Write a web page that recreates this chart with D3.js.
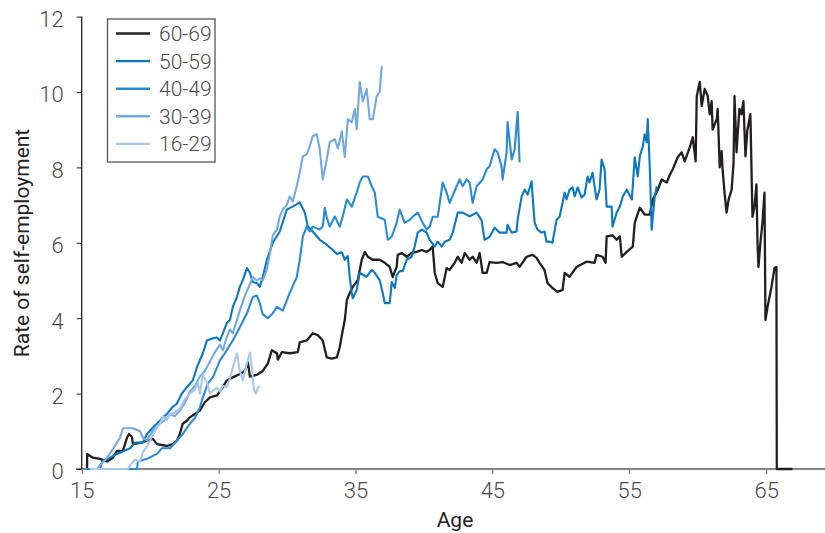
<!DOCTYPE html>
<html>
<head>
<meta charset="utf-8">
<script src="https://cdn.jsdelivr.net/npm/d3@7"></script>
<style>
  html, body { margin: 0; padding: 0; background: #fff; }
  svg { display: block; }
  text { font-family: Roboto, "Liberation Sans", Arial, sans-serif; }
</style>
</head>
<body>
<svg id="chart" width="825" height="533"></svg>
<script>
// Rate of self-employment by age, one line per age cohort: [age, rate %]
const cohort6069 = [
  [15.39,0],[15.40,0.4],[15.82,0.3],[16.34,0.27],[16.85,0.2],[17.28,0.3],[17.58,0.48],[18.01,0.48],
  [18.31,0.83],[18.45,0.93],[18.67,0.85],[18.74,0.66],[19.26,0.69],[19.77,0.75],[20.20,0.8],[20.50,0.66],
  [21.23,0.61],[21.66,0.66],[21.95,0.75],[22.17,0.93],[22.38,1.2],[22.68,1.28],[22.90,1.37],[23.27,1.46],
  [23.63,1.55],[24.00,1.77],[24.37,1.9],[24.88,1.95],[25.31,2.17],[25.60,2.35],[26.04,2.43],[26.55,2.52],
  [26.92,2.6],[27.14,2.83],[27.29,2.45],[27.80,2.5],[28.23,2.6],[28.60,2.8],[28.89,3.15],[29.11,3.1],
  [29.26,3.07],[29.33,2.9],[29.62,3.1],[30.20,3.07],[30.79,3.1],[30.93,3.36],[31.44,3.41],[31.88,3.6],
  [32.25,3.55],[32.61,3.41],[32.90,2.96],[33.27,2.93],[33.64,2.96],[33.85,3.23],[34.07,3.68],[34.22,3.95],
  [34.37,4.48],[34.58,4.67],[34.80,4.83],[35.17,5.01],[35.46,5.55],[35.68,5.76],[35.90,5.63],[36.26,5.55],
  [36.77,5.55],[37.14,5.47],[37.50,5.36],[37.72,5.09],[38.01,5.36],[38.09,5.68],[38.38,5.73],[38.74,5.63],
  [39.11,5.73],[39.47,5.76],[39.84,5.81],[40.20,5.76],[40.42,5.81],[40.64,5.9],[40.79,5.2],[41.01,4.93],
  [41.37,4.83],[41.66,5.33],[41.88,5.28],[42.25,5.47],[42.47,5.63],[42.76,5.47],[42.98,5.73],[43.34,5.55],
  [43.56,5.63],[43.85,5.47],[44.07,5.73],[44.29,5.2],[44.58,5.2],[44.80,5.49],[45.31,5.47],[45.75,5.49],
  [46.26,5.41],[46.77,5.47],[46.99,5.36],[47.50,5.63],[47.94,5.68],[48.23,5.6],[48.45,5.47],[48.81,5.28],
  [49.03,4.93],[49.39,4.8],[49.76,4.7],[50.13,4.75],[50.28,5.2],[50.64,5.1],[51.15,5.36],[51.88,5.5],
  [52.47,5.47],[52.61,5.68],[53.05,5.63],[53.27,5.47],[53.35,6.17],[53.78,6.2],[54.08,6.08],[54.31,6.17],
  [54.45,5.63],[54.82,5.76],[55.26,5.9],[55.40,6.53],[55.77,6.93],[56.13,6.75],[56.50,6.75],[56.72,7.15],
  [57.08,7.4],[57.37,7.68],[57.74,7.6],[57.96,7.8],[58.18,7.95],[58.54,8.27],[58.83,8.4],[59.05,8.16],
  [59.42,8.53],[59.64,8.8],[59.85,8.16],[59.93,9.89],[60.15,10.27],[60.29,9.63],[60.51,10.08],[60.73,9.9],
  [60.88,9.41],[61.02,9.76],[61.09,9.0],[61.39,9.28],[61.46,9.55],[61.61,8.0],[61.75,8.43],[61.82,7.95],
  [61.96,7.33],[62.11,6.8],[62.26,7.15],[62.48,7.41],[62.62,8.13],[62.69,9.89],[62.84,8.4],[62.91,8.83],
  [63.05,9.55],[63.20,9.41],[63.34,9.76],[63.49,8.29],[63.63,9.0],[63.85,9.41],[64.00,6.69],[64.15,6.96],
  [64.29,7.55],[64.37,6.0],[64.44,5.36],[64.58,6.0],[64.73,6.53],[64.88,7.33],[64.95,3.95],[65.10,4.29],
  [65.39,4.83],[65.61,5.33],[65.75,5.36],[65.78,0],[66.92,0]
];

const cohort5059 = [
  [16.20,0],[16.34,0],[16.48,0.2],[17.07,0.3],[17.58,0.4],[18.53,0.55],[18.89,0.7],[19.47,0.7],
  [19.77,0.93],[20.20,1.1],[20.72,1.28],[20.93,1.37],[21.23,1.46],[21.59,1.63],[21.95,1.73],[22.31,2.0],
  [22.68,2.17],[23.12,2.35],[23.42,2.7],[23.63,2.88],[23.85,3.07],[24.15,3.41],[24.58,3.47],[24.88,3.49],
  [25.10,3.41],[25.31,3.6],[25.60,3.87],[25.83,3.95],[26.04,4.3],[26.34,4.56],[26.55,4.83],[26.77,5.01],
  [27.07,5.33],[27.29,5.2],[27.50,4.96],[27.80,4.93],[28.01,4.83],[28.23,5.1],[28.53,5.55],[28.96,6.0],
  [29.47,6.3],[29.98,6.88],[30.42,6.96],[30.93,7.07],[31.30,6.8],[31.52,6.43],[31.88,6.3],[32.39,6.08],
  [32.90,5.95],[33.34,5.81],[33.64,5.7],[34.00,5.75],[34.22,5.55],[34.44,5.65],[34.58,5.09],[34.73,4.67],
  [34.80,4.53],[35.09,4.75],[35.31,5.2],[35.82,5.1],[36.19,5.28],[36.41,5.2],[36.77,5.01],[36.99,4.67],
  [37.14,4.4],[37.50,4.4],[37.65,4.96],[37.87,4.8],[38.01,5.15],[38.23,5.25],[38.45,5.25],[38.74,5.55],
  [39.11,5.63],[39.32,5.9],[39.55,6.27],[39.84,6.35],[40.20,6.27],[40.42,6.08],[40.79,5.9],[41.01,6.03],
  [41.30,5.9],[41.52,6.03],[41.88,6.08],[42.10,6.27],[42.47,6.8],[42.83,6.8],[43.34,6.7],[43.85,6.8],
  [44.21,6.6],[44.43,6.08],[44.80,6.16],[45.16,6.4],[45.53,6.27],[46.04,6.27],[46.11,6.48],[46.41,6.27],
  [46.77,6.3],[46.85,6.62],[47.14,7.23],[47.36,7.41],[47.58,7.28],[47.87,7.63],[47.94,7.23],[48.09,6.53],
  [48.30,6.35],[48.59,6.27],[48.81,6.3],[48.96,6.03],[49.18,6.03],[49.39,6.0],[49.69,6.61],[49.91,6.69],
  [50.13,7.06],[50.28,7.33],[50.42,7.15],[50.64,7.41],[50.86,7.47],[51.01,7.23],[51.23,7.47],[51.52,7.2],
  [51.74,7.28],[51.96,7.76],[52.10,7.6],[52.32,7.86],[52.61,7.15],[52.83,7.41],[52.98,8.21],[53.20,7.95],
  [53.35,6.96],[53.71,6.96],[53.78,6.43],[54.08,6.8],[54.31,6.96],[54.53,7.23],[54.82,7.41],[55.19,7.15],
  [55.40,8.27],[55.62,7.76],[55.77,8.3],[55.99,8.56],[56.13,8.88],[56.28,8.67],[56.35,9.28],[56.50,8.0],
  [56.64,6.35],[56.86,7.23],[57.01,7.5]
];

const cohort4049 = [
  [15.30,0],[19.04,0],[19.11,0.2],[19.77,0.27],[20.50,0.4],[20.86,0.55],[21.45,0.55],[21.95,0.75],
  [22.38,0.93],[22.90,1.2],[23.27,1.35],[23.63,1.63],[23.85,1.9],[24.22,2.27],[24.58,2.43],[25.10,2.88],
  [25.60,3.15],[26.04,3.41],[26.55,3.76],[27.07,4.13],[27.50,4.56],[27.80,4.6],[28.01,4.4],[28.23,4.1],
  [28.60,4.0],[28.96,4.13],[29.26,4.3],[29.69,4.2],[30.20,4.67],[30.71,5.09],[30.93,5.55],[31.15,6.16],
  [31.44,6.43],[31.66,6.3],[31.88,6.43],[32.39,6.35],[32.61,6.43],[32.76,6.93],[32.90,6.67],[33.12,6.43],
  [33.49,6.7],[33.85,6.43],[34.07,6.7],[34.37,7.15],[34.73,6.96],[35.09,7.33],[35.31,7.6],[35.53,7.76],
  [35.90,7.76],[36.19,7.5],[36.41,7.33],[36.63,6.69],[37.14,6.61],[37.36,6.08],[37.65,6.16],[38.01,6.53],
  [38.23,6.88],[38.60,6.53],[38.96,6.61],[39.18,6.69],[39.55,6.8],[39.91,6.53],[40.20,6.35],[40.42,6.43],
  [40.64,6.69],[41.01,6.69],[41.37,7.6],[41.66,7.33],[41.88,7.06],[42.39,7.5],[42.61,7.68],[42.83,7.5],
  [43.12,7.68],[43.34,7.6],[43.56,7.06],[43.85,7.5],[44.29,7.68],[44.58,7.95],[44.80,8.03],[45.16,8.48],
  [45.38,8.4],[45.67,8.03],[45.75,7.68],[46.04,8.4],[46.11,9.2],[46.41,8.21],[46.63,8.48],[46.85,9.47],
  [46.99,8.13]
];

const cohort3039 = [
  [16.12,0],[16.34,0.1],[16.85,0.3],[17.28,0.53],[17.80,0.83],[18.01,1.08],[18.74,1.08],[19.26,1.0],
  [19.47,0.83],[19.77,0.75],[19.99,0.9],[20.35,1.1],[20.72,1.2],[21.08,1.3],[21.45,1.45],[21.80,1.4],
  [22.17,1.55],[22.54,1.75],[22.90,2.05],[23.27,2.2],[23.63,2.45],[24.00,2.6],[24.37,2.85],[24.73,3.1],
  [25.10,3.3],[25.31,3.15],[25.60,3.5],[25.83,3.7],[26.04,3.6],[26.34,3.95],[26.55,4.2],[26.92,4.6],
  [27.29,4.9],[27.50,5.09],[27.80,5.0],[28.01,5.06],[28.23,5.0],[28.53,5.3],[28.74,5.7],[28.96,6.2],
  [29.26,6.35],[29.47,6.7],[29.69,6.88],[29.98,7.0],[30.20,7.23],[30.42,7.1],[30.71,7.5],[30.93,7.86],
  [31.15,8.29],[31.44,8.35],[31.66,8.56],[31.88,8.83],[32.17,8.88],[32.39,8.48],[32.61,7.68],[32.90,8.21],
  [33.12,8.67],[33.49,8.75],[33.71,8.5],[34.00,8.96],[34.22,8.27],[34.44,9.28],[34.73,9.2],[34.95,9.55],
  [35.09,9.01],[35.31,10.27],[35.53,9.75],[35.82,10.08],[36.04,9.28],[36.26,9.28],[36.55,9.89],[36.77,10.0],
  [36.92,10.69]
];

const cohort1629 = [
  [15.61,0],[18.38,0],[18.53,0.1],[18.89,0.25],[19.26,0.2],[19.47,0.45],[19.77,0.6],[20.20,0.9],
  [20.50,1.1],[20.72,1.2],[20.93,1.4],[21.23,1.3],[21.45,1.45],[21.80,1.5],[22.17,1.6],[22.54,1.85],
  [22.90,2.0],[23.27,2.1],[23.49,2.3],[23.63,2.0],[23.85,2.5],[24.15,2.3],[24.37,2.0],[24.58,2.08],
  [24.88,2.15],[25.10,2.05],[25.31,2.2],[25.60,2.17],[25.83,2.4],[26.04,2.7],[26.34,3.07],[26.55,2.6],
  [26.77,2.35],[27.07,2.8],[27.29,3.09],[27.43,2.7],[27.58,2.1],[27.72,2.0],[27.87,2.15],[28.01,2.2]
];

const seriesNames = ["60-69", "50-59", "40-49", "30-39", "16-29"];
const seriesData = [cohort6069, cohort5059, cohort4049, cohort3039, cohort1629];
const seriesColors = ["#231f20", "#0b78bf", "#2a8bd3", "#74a9de", "#a7c8ea"];

const xTicks = [15, 25, 35, 45, 55, 65];
const yTicks = [0, 2, 4, 6, 8, 10, 12];
const xTitle = "Age";
const yTitle = "Rate of self-employment";

const svg = d3.select("#chart");
const x = d3.scaleLinear().domain([15, 69.3]).range([81.7, 825]);
const y = d3.scaleLinear().domain([0, 12]).range([469, 16.6]);

// x axis: grey baseline with short downward ticks
const xAxis = svg.append("g").attr("transform", `translate(0,${y(0)})`)
  .call(d3.axisBottom(x).tickValues(xTicks).tickSize(5).tickPadding(4).tickFormat(d3.format("d")));
xAxis.select(".domain").remove();
xAxis.append("line").attr("x1", 76).attr("x2", 825).attr("y1", 0).attr("y2", 0)
  .attr("stroke", "#858585").attr("stroke-width", 2.2);
xAxis.selectAll(".tick line").attr("stroke", "#555").attr("stroke-width", 1);
xAxis.selectAll(".tick text").attr("fill", "#4a4a4a").attr("font-size", 22).attr("font-weight", 300)
  .attr("dy", "0.9em");

// y axis: thin dark spine with outward ticks
const yAxis = svg.append("g").attr("transform", `translate(${x(15)},0)`)
  .call(d3.axisLeft(y).tickValues(yTicks).tickSize(5).tickPadding(13).tickFormat(d3.format("d")));
yAxis.select(".domain").attr("d", `M0,${y(0)}V${y(12)}`).attr("stroke", "#222").attr("stroke-width", 1.3);
yAxis.selectAll(".tick line").attr("stroke", "#222");
yAxis.selectAll(".tick text").attr("fill", "#4a4a4a").attr("font-size", 22).attr("font-weight", 300)
  .attr("dy", "0.45em");

// cohort lines
const line = d3.line().x(d => x(d[0])).y(d => y(d[1]));
svg.append("g").selectAll("path")
  .data(seriesData)
  .join("path")
  .attr("d", line)
  .attr("fill", "none")
  .attr("stroke", (d, i) => seriesColors[i])
  .attr("stroke-width", (d, i) => i === 0 ? 2.3 : 2.1)
  .attr("stroke-linejoin", "round");

// axis titles
svg.append("text").attr("x", 455).attr("y", 527).attr("text-anchor", "middle")
  .attr("font-size", 21).attr("fill", "#222").text(xTitle);
svg.append("text").attr("transform", "translate(29,243) rotate(-90)").attr("text-anchor", "middle")
  .attr("font-size", 21).attr("fill", "#222").text(yTitle);

// legend
const legend = svg.append("g");
legend.append("rect").attr("x", 107.5).attr("y", 19).attr("width", 107.5).attr("height", 143)
  .attr("fill", "#fff").attr("stroke", "#555").attr("stroke-width", 1.3);
const rows = legend.selectAll("g.row").data(seriesNames).join("g")
  .attr("class", "row")
  .attr("transform", (d, i) => `translate(0,${33.5 + i * 27.6})`);
rows.append("line").attr("x1", 116).attr("x2", 150).attr("y1", 0).attr("y2", 0)
  .attr("stroke", (d, i) => seriesColors[i]).attr("stroke-width", 2.4);
rows.append("text").attr("x", 159).attr("y", 0).attr("dy", "0.36em")
  .attr("font-size", 21).attr("font-weight", 300).attr("fill", "#4a4a4a").text(d => d);
</script>
</body>
</html>
